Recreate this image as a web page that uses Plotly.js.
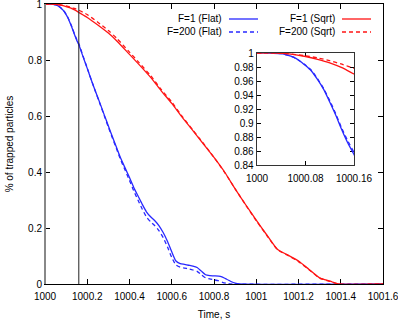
<!DOCTYPE html>
<html>
<head>
<meta charset="utf-8">
<script src="https://cdn.plot.ly/plotly-3.0.1.min.js"></script>
<style>html,body{margin:0;padding:0;background:#fff;}#chart{width:398px;height:320px;}</style>
</head>
<body>
<div id="chart"></div>
<script>
// ---- Data ----
const seriesNames = ["F=1 (Flat)", "F=200 (Flat)", "F=1 (Sqrt)", "F=200 (Sqrt)"];

const flat1Time = [1000, 1000.02, 1000.04, 1000.05, 1000.06, 1000.07, 1000.08, 1000.09, 1000.10, 1000.11, 1000.12, 1000.13, 1000.14, 1000.15, 1000.16, 1000.18, 1000.20, 1000.22, 1000.24, 1000.26, 1000.28, 1000.30, 1000.32, 1000.34, 1000.36, 1000.38, 1000.40, 1000.42, 1000.44, 1000.46, 1000.48, 1000.50, 1000.52, 1000.54, 1000.56, 1000.58, 1000.60, 1000.62, 1000.64, 1000.66, 1000.68, 1000.70, 1000.72, 1000.74, 1000.76, 1000.78, 1000.80, 1000.83, 1000.86, 1000.88, 1000.90, 1000.92, 1001.6];
const flat1Value = [1, 1, 0.999, 0.997, 0.994, 0.989, 0.982, 0.974, 0.962, 0.948, 0.930, 0.911, 0.890, 0.871, 0.855, 0.812, 0.770, 0.727, 0.686, 0.646, 0.605, 0.564, 0.524, 0.485, 0.446, 0.413, 0.380, 0.345, 0.315, 0.285, 0.258, 0.240, 0.226, 0.208, 0.183, 0.152, 0.115, 0.082, 0.073, 0.070, 0.067, 0.064, 0.059, 0.046, 0.033, 0.030, 0.029, 0.027, 0.017, 0.009, 0.003, 0, 0];

const flat200Time = [1000, 1000.02, 1000.04, 1000.05, 1000.06, 1000.07, 1000.08, 1000.09, 1000.10, 1000.11, 1000.12, 1000.13, 1000.14, 1000.15, 1000.16, 1000.18, 1000.20, 1000.22, 1000.24, 1000.26, 1000.28, 1000.30, 1000.32, 1000.34, 1000.36, 1000.38, 1000.40, 1000.42, 1000.44, 1000.46, 1000.48, 1000.50, 1000.52, 1000.54, 1000.56, 1000.58, 1000.60, 1000.62, 1000.64, 1000.66, 1000.68, 1000.70, 1000.72, 1000.74, 1000.76, 1000.78, 1000.80, 1000.82, 1000.84, 1000.86, 1000.88, 1001.6];
const flat200Value = [1, 1, 0.999, 0.997, 0.994, 0.989, 0.983, 0.975, 0.963, 0.949, 0.932, 0.913, 0.892, 0.874, 0.858, 0.814, 0.771, 0.727, 0.685, 0.644, 0.602, 0.560, 0.520, 0.480, 0.440, 0.405, 0.370, 0.333, 0.300, 0.268, 0.240, 0.222, 0.208, 0.190, 0.165, 0.132, 0.095, 0.068, 0.060, 0.057, 0.054, 0.050, 0.045, 0.033, 0.022, 0.018, 0.015, 0.012, 0.006, 0.002, 0, 0];

const sqrt1Time = [1000, 1000.03, 1000.05, 1000.08, 1000.10, 1000.12, 1000.14, 1000.16, 1000.20, 1000.25, 1000.30, 1000.34, 1000.40, 1000.44, 1000.50, 1000.55, 1000.60, 1000.65, 1000.70, 1000.75, 1000.80, 1000.85, 1000.90, 1000.95, 1001.00, 1001.05, 1001.10, 1001.15, 1001.20, 1001.25, 1001.30, 1001.35, 1001.39, 1001.6];
const sqrt1Value = [1, 1, 0.999, 0.995, 0.991, 0.986, 0.979, 0.970, 0.952, 0.925, 0.896, 0.868, 0.820, 0.788, 0.738, 0.690, 0.645, 0.595, 0.548, 0.500, 0.452, 0.400, 0.340, 0.283, 0.228, 0.175, 0.124, 0.103, 0.082, 0.052, 0.022, 0.010, 0, 0];

const sqrt200Time = [1000, 1000.03, 1000.05, 1000.08, 1000.10, 1000.12, 1000.14, 1000.16, 1000.20, 1000.25, 1000.30, 1000.34, 1000.40, 1000.44, 1000.50, 1000.55, 1000.60, 1000.65, 1000.70, 1000.75, 1000.80, 1000.85, 1000.90, 1000.95, 1001.00, 1001.05, 1001.10, 1001.15, 1001.20, 1001.25, 1001.30, 1001.35, 1001.39, 1001.6];
const sqrt200Value = [1, 1, 0.999, 0.996, 0.993, 0.989, 0.984, 0.978, 0.962, 0.935, 0.905, 0.877, 0.828, 0.795, 0.744, 0.695, 0.650, 0.598, 0.550, 0.502, 0.452, 0.399, 0.340, 0.282, 0.226, 0.174, 0.123, 0.102, 0.080, 0.051, 0.021, 0.009, 0, 0];

const markerTime = 1000.16;          // vertical reference line
const mainXTicks = [1000, 1000.2, 1000.4, 1000.6, 1000.8, 1001, 1001.2, 1001.4, 1001.6];
const mainYTicks = [0, 0.2, 0.4, 0.6, 0.8, 1];
const insetXTicks = [1000, 1000.08, 1000.16];
const insetYTicks = [0.84, 0.86, 0.88, 0.9, 0.92, 0.94, 0.96, 0.98, 1];

// ---- Styling ----
const BLUE = "rgb(40,40,255)";
const RED = "rgb(255,20,20)";
const DASH = "4px,3px";
const FONT = "Liberation Sans, Arial, Helvetica, sans-serif";
const W = 398, H = 320;

const sets = [
  {x: flat1Time, y: flat1Value, color: BLUE, dash: "solid"},
  {x: flat200Time, y: flat200Value, color: BLUE, dash: DASH},
  {x: sqrt1Time, y: sqrt1Value, color: RED, dash: "solid"},
  {x: sqrt200Time, y: sqrt200Value, color: RED, dash: DASH}
];

const traces = [];
sets.forEach((s, i) => {
  traces.push({x: s.x, y: s.y, name: seriesNames[i], type: "scatter", mode: "lines",
    line: {color: s.color, width: 1.3, dash: s.dash, shape: "spline", smoothing: 0.6},
    xaxis: "x", yaxis: "y", showlegend: false, hoverinfo: "skip"});
});
sets.forEach((s, i) => {
  traces.push({x: s.x, y: s.y, name: seriesNames[i] + " (zoom)", type: "scatter", mode: "lines",
    line: {color: s.color, width: 1.3, dash: s.dash, shape: "spline", smoothing: 0.6},
    xaxis: "x2", yaxis: "y2", showlegend: false, hoverinfo: "skip"});
});

const axBase = {
  showgrid: false, zeroline: false, showline: true, linecolor: "#000", linewidth: 1,
  mirror: "ticks", ticks: "inside", tickcolor: "#000", tickwidth: 1,
  tickfont: {family: FONT, size: 10, color: "#000"}, automargin: false, fixedrange: true,
  layer: "below traces", ticklabeloverflow: "allow"
};

// legend (gnuplot style: text right-aligned, sample to its right)
const legendRows = [
  {text: seriesNames[0], tx: 224, y: 19, x0: 229, x1: 258, color: BLUE, dash: "solid"},
  {text: seriesNames[1], tx: 224, y: 32, x0: 229, x1: 258, color: BLUE, dash: "dash"},
  {text: seriesNames[2], tx: 337, y: 19, x0: 342, x1: 371, color: RED, dash: "solid"},
  {text: seriesNames[3], tx: 337, y: 32, x0: 342, x1: 371, color: RED, dash: "dash"}
];

const annotations = legendRows.map(r => ({
  text: r.text, xref: "paper", yref: "paper", x: r.tx / W, y: 1 - r.y / H,
  xanchor: "right", yanchor: "middle", showarrow: false,
  font: {family: FONT, size: 10, color: "#000"}
}));

const shapes = legendRows.map(r => ({
  type: "line", xref: "paper", yref: "paper", x0: r.x0 / W, x1: r.x1 / W,
  y0: 1 - r.y / H, y1: 1 - r.y / H,
  line: {color: r.color, width: 1.3, dash: r.dash === "solid" ? "solid" : "4px,3px"}
}));
shapes.push({type: "line", xref: "x", yref: "y", x0: markerTime, x1: markerTime, y0: 0, y1: 1,
  line: {color: "#222", width: 1}});
shapes.push({type: "line", xref: "paper", yref: "paper", x0: 45 / W, x1: 45 / W, y0: 1 - 284 / H, y1: 1 - 4 / H,
  line: {color: "#888", width: 2}});

const layout = {
  width: W, height: H,
  margin: {l: 0, r: 0, t: 0, b: 0, pad: 0},
  paper_bgcolor: "#fff", plot_bgcolor: "#fff",
  font: {family: FONT, size: 10, color: "#000"},
  showlegend: false,
  xaxis: Object.assign({}, axBase, {
    domain: [45 / W, 383 / W], range: [1000, 1001.6], tickmode: "array",
    tickvals: mainXTicks, ticktext: mainXTicks.map(String), ticklen: 5, anchor: "y",
    ticklabelstandoff: 3,
    title: {text: "Time, s", font: {family: FONT, size: 10, color: "#000"}, standoff: 10}
  }),
  yaxis: Object.assign({}, axBase, {
    domain: [1 - 284 / H, 1 - 4 / H], range: [0, 1], tickmode: "array",
    tickvals: mainYTicks, ticktext: mainYTicks.map(String), ticklen: 5, anchor: "x",
    title: {text: "% of trapped particles", font: {family: FONT, size: 10, color: "#000"}, standoff: 12}
  }),
  xaxis2: Object.assign({}, axBase, {
    domain: [257 / W, 354 / W], range: [1000, 1000.16], tickmode: "array",
    tickvals: insetXTicks, ticktext: insetXTicks.map(String), ticklen: 4, anchor: "y2",
    ticklabelstandoff: 4, linecolor: "#333", linewidth: 1.3
  }),
  yaxis2: Object.assign({}, axBase, {
    domain: [1 - 165 / H, 1 - 53 / H], range: [0.84, 1], tickmode: "array",
    tickvals: insetYTicks, ticktext: insetYTicks.map(String), ticklen: 4, anchor: "x2",
    linecolor: "#333", linewidth: 1.3
  }),
  annotations: annotations,
  shapes: shapes
};

Plotly.newPlot("chart", traces, layout, {staticPlot: true, displayModeBar: false});
</script>
</body>
</html>
